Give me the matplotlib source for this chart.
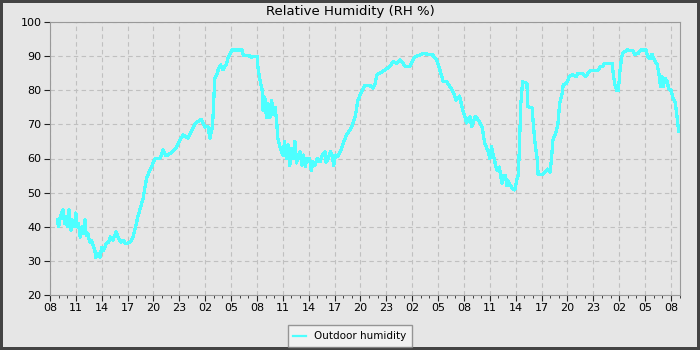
import matplotlib
matplotlib.use('Agg')
from matplotlib import pyplot as plt
from matplotlib.ticker import MultipleLocator

# hours since 08:00 on the first day
hours = [0.85, 1.0, 1.2, 1.5, 1.7, 1.85, 2.0, 2.2, 2.35, 2.45, 2.6, 2.8, 3.0, 3.1,
         3.3, 3.5, 3.7, 3.9, 4.05, 4.2, 4.4, 4.6, 4.8, 5.0, 5.2, 5.3, 5.6, 5.8,
         6.0, 6.2, 6.5, 6.8, 7.0, 7.3, 7.65, 7.9, 8.2, 8.5, 8.8, 9.3, 9.6,
         10.2, 10.8, 11.2, 11.7, 12.2, 12.75, 13.1, 13.4, 13.7, 14.3, 14.6,
         15.1, 15.4, 16.0, 16.35, 16.9, 17.5, 18.0, 18.3, 18.55, 18.8, 18.9,
         19.0, 19.1, 19.4, 19.5, 19.8, 20.05, 20.3, 20.5, 20.6, 21.1, 22.3,
         22.4, 23.2, 23.4, 23.5, 24.0, 24.1, 24.35, 24.6, 24.7, 24.9, 25.1,
         25.3, 25.5, 25.7, 25.9, 26.1, 26.3, 26.4, 26.7, 27.0, 27.2, 27.4,
         27.6, 27.8, 28.0, 28.2, 28.4, 28.6, 28.8, 29.0, 29.2, 29.4, 29.6,
         29.8, 30.1, 30.3, 30.5, 30.7, 31.0, 31.3, 31.6, 31.9, 32.0, 32.2,
         32.5, 32.7, 32.9, 33.1, 33.3, 33.6, 34.0, 34.4, 35.0, 35.4, 35.7,
         36.2, 36.5, 37.1, 37.45, 37.7, 37.9, 38.5, 39.4, 39.8, 40.2, 40.6,
         41.2, 41.7, 42.3, 42.9, 43.2, 44.4, 44.9, 45.2, 45.6, 46.0, 46.4,
         46.7, 47.1, 47.5, 47.8, 48.1, 48.3, 48.7, 48.9, 49.3, 49.6, 50.1,
         50.4, 50.8, 51.0, 51.2, 51.4, 51.8, 52.1, 52.4, 52.6, 52.8, 53.0,
         53.1, 53.4, 53.6, 53.9, 54.1, 54.3, 54.4, 54.6, 54.8, 55.3, 55.4,
         55.9, 56.0, 56.2, 56.5, 56.6, 57.0, 57.2, 57.7, 58.0, 58.2, 58.3,
         58.7, 58.9, 59.1, 59.4, 59.5, 59.9, 60.2, 60.6, 61.0, 61.2, 61.8,
         62.1, 62.4, 62.6, 63.5, 63.8, 64.1, 64.3, 65.2, 65.3, 65.5, 65.7,
         65.9, 66.1, 66.3, 66.4, 66.9, 67.6, 67.8, 68.2, 68.5, 69.1, 69.3,
         69.6, 69.8, 70.1, 70.4, 70.6, 70.8, 70.95, 71.1, 71.3, 71.6, 71.7,
         72.0, 72.2, 72.5, 72.7, 72.9]

rh = [42, 40, 43, 45, 41, 43, 40, 45, 41, 39, 42, 40, 44, 40,
      41, 37, 40, 38, 42, 37.5, 38, 35.5, 36, 34.5, 33, 31, 32, 31,
      34, 33, 35, 35.5, 37, 36, 38.5, 37, 35.5, 36, 35, 35.6, 36.7,
      43, 48.4, 54.3, 57.2, 60.1, 60, 62.5, 61, 61, 62.3, 63,
      65.4, 66.9, 66, 67.8, 70.4, 71.5, 69.2, 69.5, 66, 69, 72,
      78, 83.5, 85, 86, 87.4, 86, 87, 88, 89.4, 91.8, 91.8,
      90.3, 90, 89.5, 90, 90, 86.9, 83, 80, 74, 78, 72,
      76, 72, 77, 73, 75, 70.4, 66, 63, 61, 65, 60,
      64, 58, 63, 60, 65, 58.7, 61, 62, 58, 61, 57.6,
      60, 60, 56.5, 59, 58, 60, 59, 61, 62, 59, 59.5,
      62, 61, 58, 61, 60.5, 61.6, 64.5, 67, 69.3, 72.3, 77.1,
      80, 81.5, 81.4, 80.6, 82, 84.5, 85.4, 86.9, 88.4, 87.8, 88.9,
      87, 87, 89.8, 90.3, 90.8, 90.3, 88.6, 86, 82.5, 82.5, 81,
      79.8, 77.1, 78.3, 74.7, 72.3, 70.4, 72.3, 69.3, 72.3, 71.5, 69.3,
      64.5, 62, 60, 63.4, 61, 56.6, 57.5, 52.8, 55, 55, 52,
      53.5, 52, 51.3, 50.8, 53.5, 55, 61.5, 76.3, 82.5, 82, 75.2,
      74.8, 71.3, 65.4, 59.6, 55.2, 55.2, 55.5, 56.9, 56, 61.6, 65.4,
      67.9, 70.4, 76.3, 79.2, 81.5, 82, 84, 84.5, 84, 85, 84.9,
      84, 85, 85.7, 85.7, 86.9, 87, 87.9, 87.9, 85, 81.5, 80,
      80, 86, 89.8, 90.8, 91.8, 91.6, 90.5, 90.8, 91.8, 91.8, 90,
      89.2, 90.5, 88.9, 87.5, 85, 81, 84, 81, 83.5, 82.5, 80.6,
      80, 78, 76.3, 72.3, 67.9]

tick_labels = ['08', '11', '14', '17', '20', '23', '02', '05',
               '08', '11', '14', '17', '20', '23', '02', '05',
               '08', '11', '14', '17', '20', '23', '02', '05', '08']

bg = '#e6e6e6'
fig = plt.figure(figsize=(7, 3.5), dpi=100, facecolor=bg,
                 edgecolor='#444444', linewidth=3)
ax = fig.add_axes([50 / 700, 55 / 350, 630 / 700, 273 / 350])
ax.set_facecolor(bg)

ax.plot(hours, rh, color='#4dffff', lw=1.6, antialiased=False,
        label='Outdoor humidity')

ax.set_xlim(0, 73.05)
ax.set_ylim(20, 100)
ax.set_xticks(range(0, 73, 3))
ax.set_xticklabels(tick_labels)
ax.xaxis.set_minor_locator(MultipleLocator(1))
ax.set_yticks(range(20, 101, 10))

ax.grid(True, which='major', color='#c0c0c0', linestyle=(0, (4, 3)), lw=0.8)
for side in ax.spines.values():
    side.set_color('#999999')
ax.tick_params(which='major', length=4, color='#222222', labelsize=8,
               pad=2)
ax.tick_params(which='minor', length=2, color='#222222')

fig.text(0.5, 1 - 11 / 350, 'Relative Humidity (RH %)', fontsize=9.5,
         ha='center', va='center')

leg = fig.legend(loc='lower center', bbox_to_anchor=(0.5, -0.006),
                 fontsize=7.5, frameon=True, fancybox=False,
                 handlelength=1.2, borderpad=0.55)
leg.get_frame().set_facecolor('#f5f5f5')
leg.get_frame().set_edgecolor('#808080')

fig.savefig('out.png', dpi=100, facecolor=bg)
